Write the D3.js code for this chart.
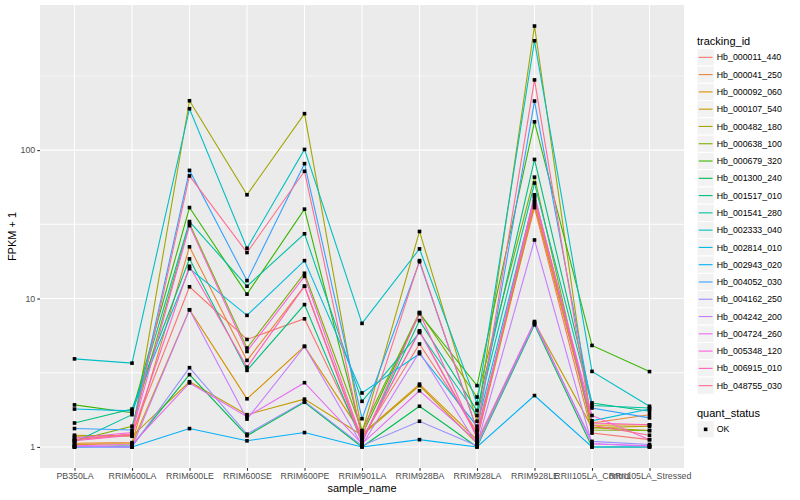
<!DOCTYPE html>
<html>
<head>
<meta charset="utf-8">
<script src="https://cdn.jsdelivr.net/npm/d3@7"></script>
<style>
body{margin:0;background:#fff;}
text{font-family:"Liberation Sans",Arial,Helvetica,sans-serif;}
</style>
</head>
<body>
<div id="chart"></div>
<script>
// samples on the x axis
var samples = ["PB350LA","RRIM600LA","RRIM600LE","RRIM600SE","RRIM600PE","RRIM901LA",
               "RRIM928BA","RRIM928LA","RRIM928LE","RRII105LA_Control","RRII105LA_Stressed"];

var trackingIds = ["Hb_000011_440","Hb_000041_250","Hb_000092_060","Hb_000107_540","Hb_000482_180",
                   "Hb_000638_100","Hb_000679_320","Hb_001300_240","Hb_001517_010","Hb_001541_280",
                   "Hb_002333_040","Hb_002814_010","Hb_002943_020","Hb_004052_030","Hb_004162_250",
                   "Hb_004242_200","Hb_004724_260","Hb_005348_120","Hb_006915_010","Hb_048755_030"];

// FPKM + 1, one row per tracking_id, in sample order
var fpkm = [
  [1.12,1.22,12,  5.3, 7.3, 1.15,4.94,1.27,41,  1.24,1.12],
  [1.06,1.07,22.3,3.83,12.1,1.10,6.06,1.21,45,  1.45,1.65],
  [1.04,1.05,8.4, 2.11,4.76,1.22,2.65,1.12,43,  1.40,1.41],
  [1.20,1.18,2.75,1.65,2.10,1.20,2.59,1.06,6.9, 1.35,1.38],
  [1.18,1.20,215, 50,  176, 1.25,28.3,1.49,685, 1.35,1.29],
  [1.10,1.38,32,  4.64,14.8,1.29,8.06,2.17,65.7,1.30,1.29],
  [1.92,1.70,41,  10.7,40,  1.20,7.9, 2.59,155, 4.83,3.22],
  [1.00,1.02,3.07,1.19,2.00,1.00,1.88,1.00,6.65,1.00,1.00],
  [1.45,1.80,18.5,3.28,9.1, 1.08,7.1, 1.76,86.5,1.98,1.74],
  [1.08,1.65,33,  12.1,27.3,2.03,5.9, 1.63,60,  1.90,1.83],
  [3.92,3.67,190, 21.8,101, 6.8, 21.6,1.96,545, 3.23,1.88],
  [1.80,1.75,15.9,7.7, 18,  2.31,4.25,1.38,48.7,1.50,1.80],
  [1.00,1.00,1.33,1.10,1.25,1.00,1.12,1.00,2.22,1.00,1.00],
  [1.33,1.30,73,  13.2,81,  1.55,17.7,1.30,214, 1.83,1.57],
  [1.00,1.00,3.42,1.22,2.03,1.02,1.49,1.02,6.8, 1.09,1.04],
  [1.01,1.00,8.4, 1.54,4.76,1.03,4.36,1.04,24.8,1.05,1.01],
  [1.02,1.04,2.7, 1.60,2.71,1.05,2.39,1.09,7.0, 1.05,1.02],
  [1.15,1.25,31,  4.4, 14.1,1.12,6.0, 1.18,46.8,1.63,1.12],
  [1.10,1.20,16.5,3.45,12.1,1.06,8.0, 1.15,50,  1.45,1.41],
  [1.12,1.22,67,  20.4,72,  1.15,18,  1.30,297, 1.40,1.20]
];

var yTicks = [1, 10, 100];
var statusLabels = ["OK"];

var palette = ["#F8766D","#EA8331","#D89000","#C09B00","#A3A500","#7CAE00","#39B600","#00BB4E",
               "#00BF7D","#00C1A3","#00BFC4","#00BAE0","#00B0F6","#35A2FF","#9590FF","#C77CFF",
               "#E76BF3","#FA62DB","#FF62BC","#FF6C91"];

var W = 800, H = 500;
var panel = {left: 40, right: 684, top: 5, bottom: 468};

var svg = d3.select("#chart").append("svg").attr("width", W).attr("height", H);

var series = trackingIds.map(function(id, i){
    return {id: id, color: palette[i], values: fpkm[i].map(function(v, j){ return {s: samples[j], v: v}; })};
});

var x = d3.scalePoint().domain(samples).range([panel.left, panel.right]).padding(0.6);

var logExt = d3.extent(d3.merge(fpkm), function(v){ return Math.log10(v); });
var pad = (logExt[1] - logExt[0]) * 0.05;
var y = d3.scaleLog()
    .domain([Math.pow(10, logExt[0] - pad), Math.pow(10, logExt[1] + pad)])
    .range([panel.bottom, panel.top]);

// panel background
svg.append("rect").attr("x", panel.left).attr("y", panel.top)
    .attr("width", panel.right - panel.left).attr("height", panel.bottom - panel.top)
    .attr("fill", "#EBEBEB");

// minor y grid: halfway between majors in log space
var minor = [];
yTicks.forEach(function(t){ minor.push(t * Math.sqrt(10)); minor.push(t / Math.sqrt(10)); });
minor = minor.filter(function(m){ return m > y.domain()[0] && m < y.domain()[1]; });

var grid = svg.append("g");
grid.selectAll(".minor").data(minor).enter().append("line")
    .attr("x1", panel.left).attr("x2", panel.right)
    .attr("y1", d => y(d)).attr("y2", d => y(d))
    .attr("stroke", "#fff").attr("stroke-width", 0.55);
grid.selectAll(".majory").data(yTicks).enter().append("line")
    .attr("x1", panel.left).attr("x2", panel.right)
    .attr("y1", d => y(d)).attr("y2", d => y(d))
    .attr("stroke", "#fff").attr("stroke-width", 1.1);
grid.selectAll(".majorx").data(samples).enter().append("line")
    .attr("x1", d => x(d)).attr("x2", d => x(d))
    .attr("y1", panel.top).attr("y2", panel.bottom)
    .attr("stroke", "#fff").attr("stroke-width", 1.1);

// lines
var line = d3.line().x(d => x(d.s)).y(d => y(d.v));
svg.append("g").selectAll("path").data(series).enter().append("path")
    .attr("d", d => line(d.values))
    .attr("fill", "none")
    .attr("stroke", d => d.color)
    .attr("stroke-width", 1.1);

// points
var pts = [];
series.forEach(function(s){ s.values.forEach(function(p){ pts.push(p); }); });
svg.append("g").selectAll("rect").data(pts).enter().append("rect")
    .attr("x", d => x(d.s) - 1.8).attr("y", d => y(d.v) - 1.8)
    .attr("width", 3.6).attr("height", 3.6)
    .attr("fill", "#000");

// axes
var xAxis = svg.append("g").attr("transform", "translate(0," + panel.bottom + ")")
    .call(d3.axisBottom(x).tickSize(2.75).tickPadding(2));
var yAxis = svg.append("g").attr("transform", "translate(" + panel.left + ",0)")
    .call(d3.axisLeft(y).tickValues(yTicks).tickFormat(d3.format("d")).tickSize(2.75).tickPadding(2));
[xAxis, yAxis].forEach(function(a){
    a.select(".domain").remove();
    a.selectAll(".tick line").attr("stroke", "#333").attr("stroke-width", 1.1);
    a.selectAll(".tick text").attr("fill", "#4D4D4D").style("font-size", "8.8px")
        .style("font-family", "'Liberation Sans',Arial,sans-serif");
});

// axis titles
svg.append("text").attr("x", (panel.left + panel.right) / 2).attr("y", 492)
    .attr("text-anchor", "middle").style("font-size", "11px").text("sample_name");
svg.append("text").attr("transform", "translate(16," + ((panel.top + panel.bottom) / 2) + ") rotate(-90)")
    .attr("text-anchor", "middle").style("font-size", "11px").text("FPKM + 1");

// legend: tracking_id
var lg = svg.append("g");
var keyX = 697, keySize = 17.28, firstKey = 48.7;
lg.append("text").attr("x", keyX).attr("y", 44.5).style("font-size", "11px").text("tracking_id");
var keys = lg.selectAll(".key").data(series).enter().append("g")
    .attr("transform", (d, i) => "translate(" + keyX + "," + (firstKey + i * keySize) + ")");
keys.append("rect").attr("width", keySize).attr("height", keySize)
    .attr("fill", "#F2F2F2").attr("stroke", "#fff").attr("stroke-width", 1);
keys.append("line").attr("x1", 1.7).attr("x2", keySize - 1.7)
    .attr("y1", keySize / 2).attr("y2", keySize / 2)
    .attr("stroke", d => d.color).attr("stroke-width", 1.1);
keys.append("text").attr("x", keySize + 2.5).attr("y", keySize / 2 + 3.1)
    .style("font-size", "8.8px").text(d => d.id);

// legend: quant_status
var qg = svg.append("g");
qg.append("text").attr("x", keyX).attr("y", 416.7).style("font-size", "11px").text("quant_status");
var qk = qg.selectAll(".qk").data(statusLabels).enter().append("g")
    .attr("transform", (d, i) => "translate(" + keyX + "," + (420.7 + i * keySize) + ")");
qk.append("rect").attr("width", keySize).attr("height", keySize)
    .attr("fill", "#F2F2F2").attr("stroke", "#fff").attr("stroke-width", 1);
qk.append("rect").attr("x", keySize / 2 - 1.8).attr("y", keySize / 2 - 1.8)
    .attr("width", 3.6).attr("height", 3.6).attr("fill", "#000");
qk.append("text").attr("x", keySize + 2.5).attr("y", keySize / 2 + 3.1)
    .style("font-size", "8.8px").text(d => d);
</script>
</body>
</html>
